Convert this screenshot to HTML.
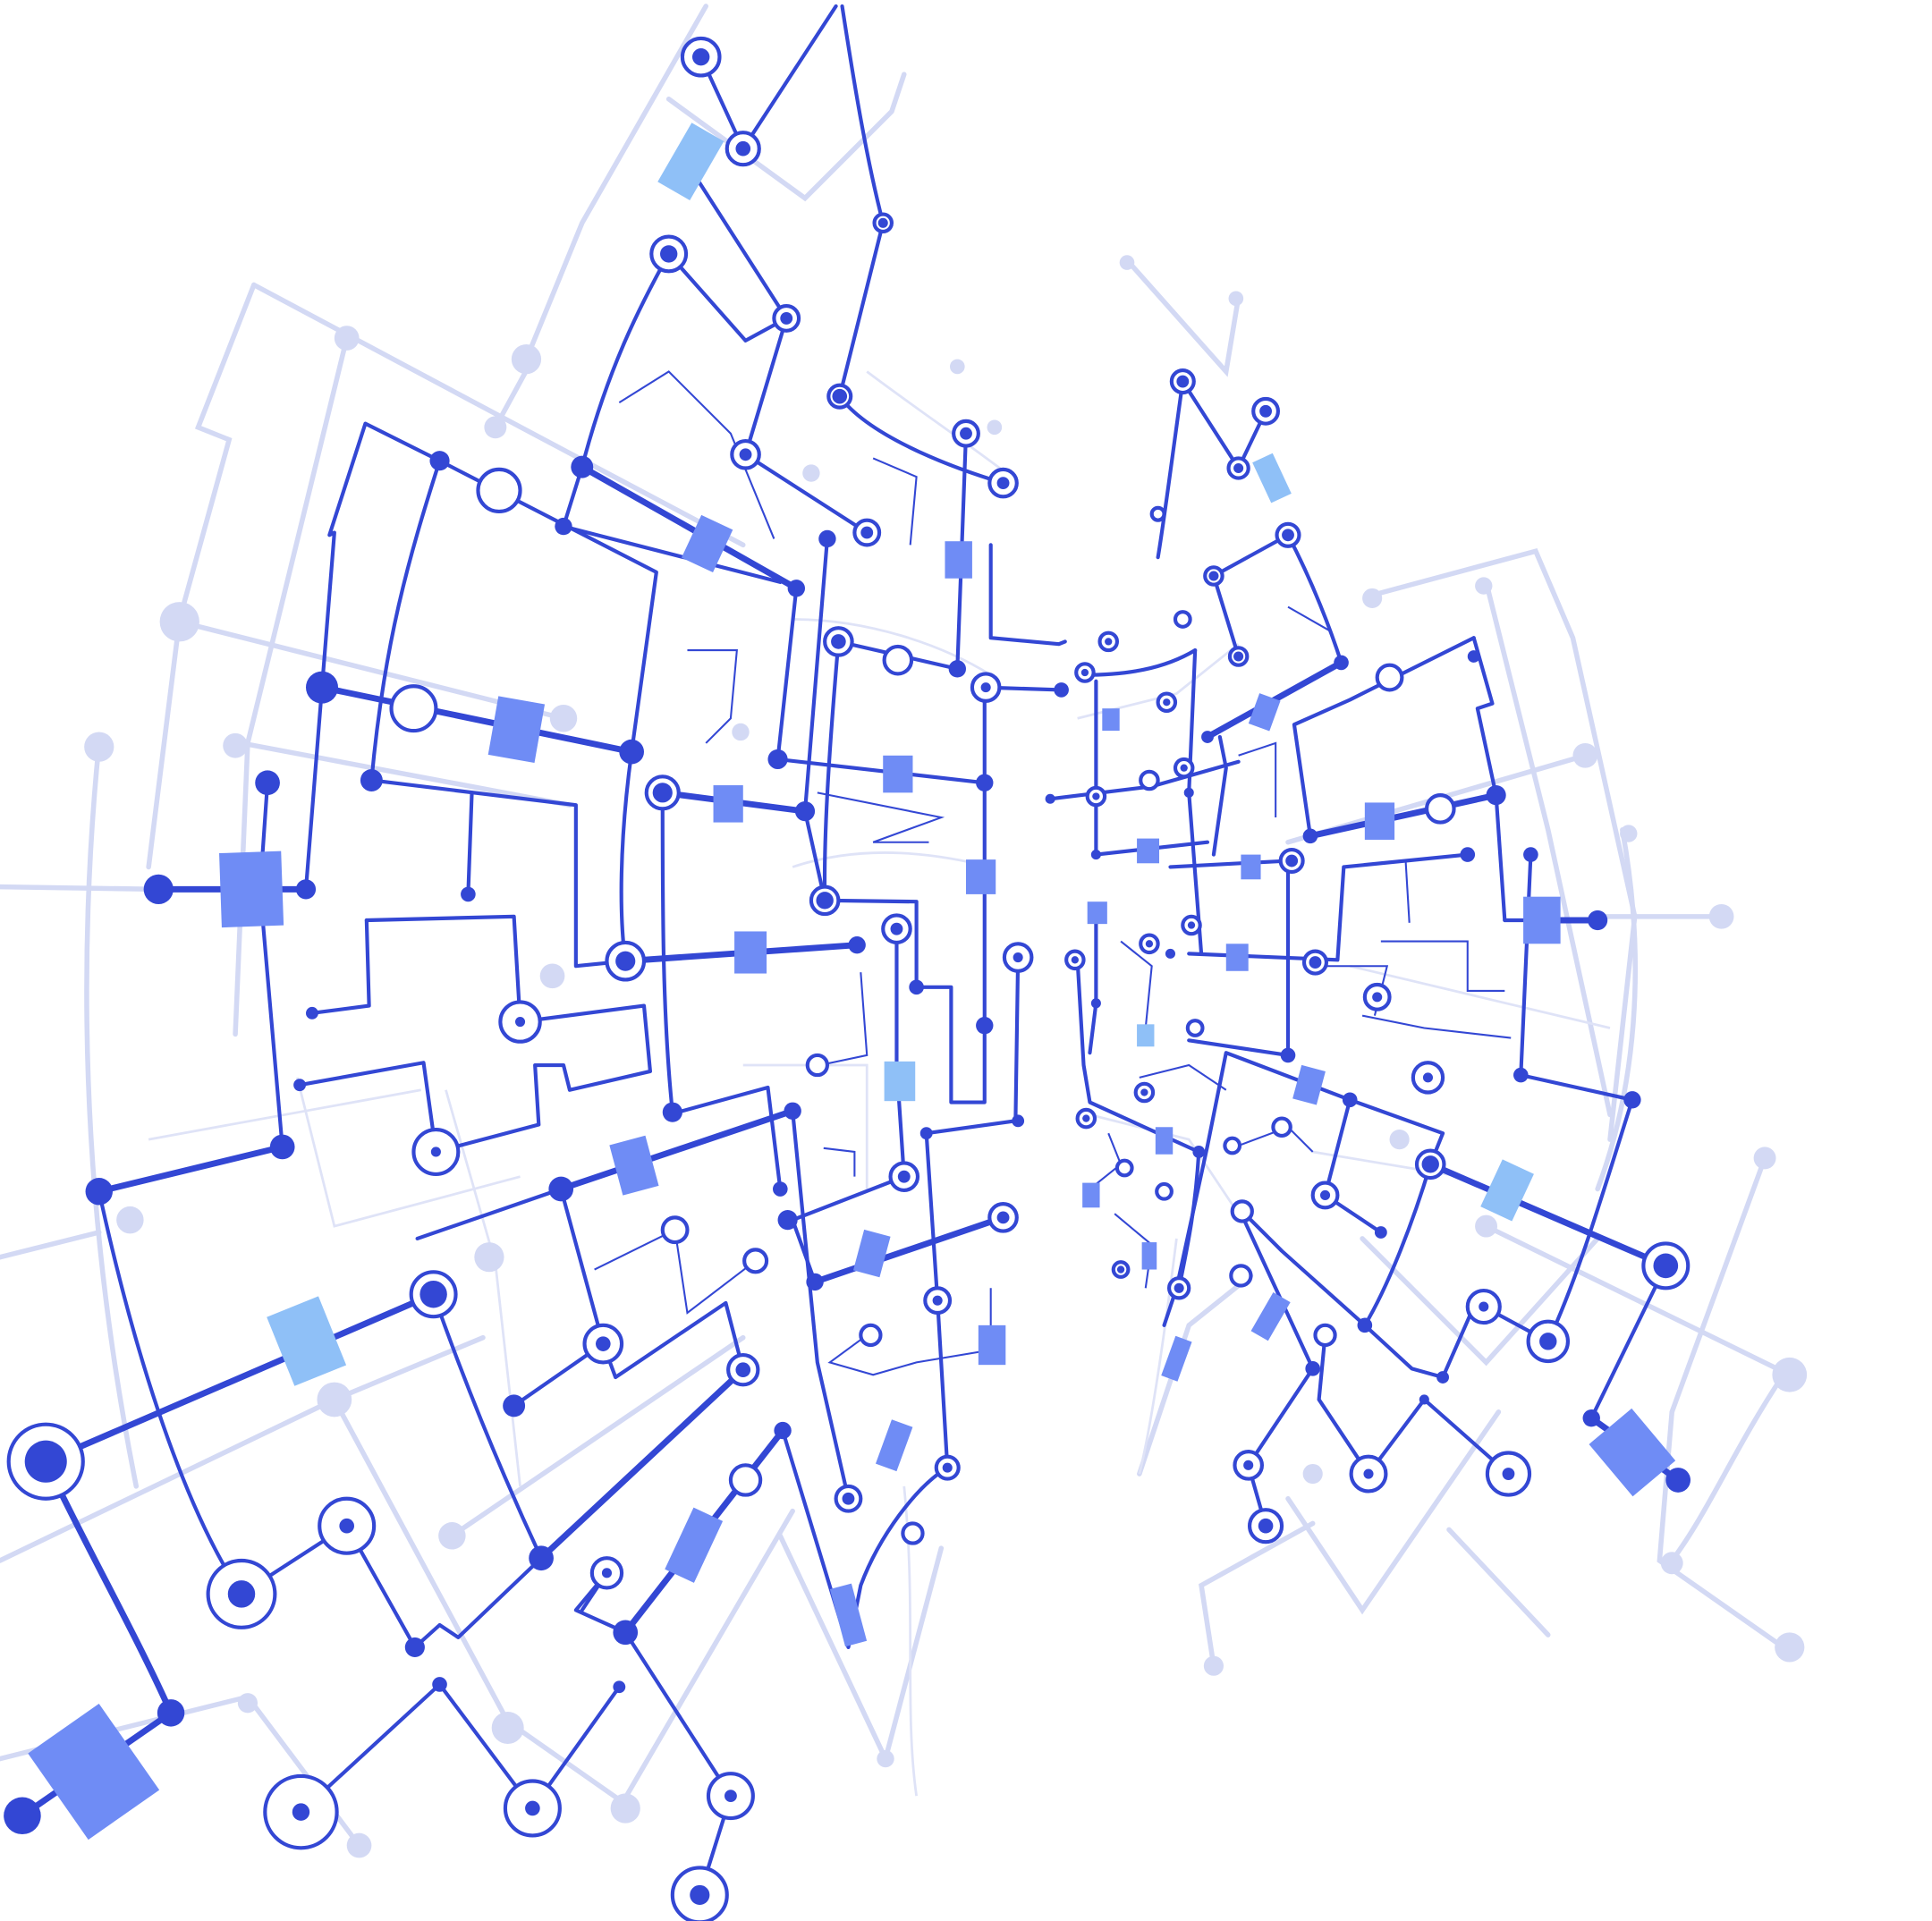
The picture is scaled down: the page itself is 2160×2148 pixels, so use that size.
<!DOCTYPE html>
<html><head><meta charset="utf-8"><style>
html,body{margin:0;padding:0;background:#fff;width:2160px;height:2148px;overflow:hidden}
svg{display:block}
.d{stroke:#3347d4;fill:none;stroke-width:3;stroke-linecap:round;stroke-linejoin:round}
.t{stroke:#3347d4;fill:none;stroke-width:5;stroke-linecap:round;stroke-linejoin:round}
.n{stroke:#3347d4;fill:none;stroke-width:1.5}
.f{stroke:#d3d9f4;fill:none;stroke-width:4;stroke-linecap:round}
.ff{stroke:#dfe3f7;fill:none;stroke-width:2}
.dot{fill:#3347d4}
.fd{fill:#d3d9f4}
.sq{fill:#6f8cf5}
.lq{fill:#8fc0f7}
.ring{stroke:#3347d4;fill:#fff;stroke-width:3}
</style></head><body>
<svg width="2160" height="2148" viewBox="0 0 1560 1551" preserveAspectRatio="none">
<g>
<path class="f" d="M0 716 L128 718"/>
<path class="f" d="M0 1015 L80 995"/>
<path class="f" d="M145 502 L455 580"/>
<path class="f" d="M80 600 C60 800 70 1000 110 1200"/>
<path class="f" d="M205 230 L160 345 L185 355 L145 500 L120 700"/>
<path class="f" d="M205 230 L430 350 L600 440"/>
<path class="f" d="M280 273 L200 600 L190 835"/>
<path class="f" d="M195 600 L460 650"/>
<path class="f" d="M0 1260 L270 1130 L390 1080"/>
<path class="f" d="M270 1130 L410 1390 L510 1460"/>
<path class="f" d="M0 1420 L200 1370 L290 1490"/>
<path class="f" d="M365 1240 L600 1080"/>
<path class="f" d="M425 290 L470 180 L570 5"/>
<path class="f" d="M400 345 L430 290"/>
<path class="f" d="M500 1460 L640 1220"/>
<path class="f" d="M630 1240 L715 1420 L760 1250"/>
<path class="f" d="M540 80 L650 160 L720 90 L730 60"/>
<path class="f" d="M910 210 L990 300 L1000 240"/>
<path class="f" d="M1110 480 L1240 445 L1270 515 L1320 740 L1300 920"/>
<path class="f" d="M1280 610 L1040 680"/>
<path class="f" d="M1290 740 L1390 740"/>
<path class="f" d="M1200 470 L1250 670 L1300 900"/>
<path class="f" d="M1310 670 C1330 780 1320 880 1290 960"/>
<path class="f" d="M1200 990 L1445 1110"/>
<path class="f" d="M1425 935 L1350 1140 L1340 1260 L1440 1330"/>
<path class="f" d="M1440 1110 C1400 1170 1380 1220 1350 1260"/>
<path class="f" d="M1210 1140 L1100 1300 L1040 1210"/>
<path class="f" d="M1170 1235 L1250 1320"/>
<path class="f" d="M1060 1230 L970 1280 L980 1345"/>
<path class="f" d="M920 1190 L960 1070 L1010 1030"/>
<path class="f" d="M1100 1000 L1200 1100 L1290 1000"/>
<path class="ff" d="M640 500 C700 500 760 520 800 545"/>
<path class="ff" d="M700 300 C740 330 770 350 810 380"/>
<path class="ff" d="M600 860 L700 860 L700 960"/>
<path class="ff" d="M640 700 C700 680 760 690 800 700"/>
<path class="ff" d="M870 580 L950 560 L1000 520"/>
<path class="ff" d="M880 900 L960 920 L1000 980"/>
<path class="ff" d="M730 1200 C740 1300 730 1380 740 1450"/>
<path class="ff" d="M950 1000 C940 1080 930 1150 920 1190"/>
<path class="ff" d="M360 880 L400 1020 L420 1200"/>
<path class="ff" d="M240 870 L270 990 L420 950"/>
<path class="ff" d="M120 920 L340 880"/>
<path class="ff" d="M1090 780 L1300 830"/>
<path class="ff" d="M1060 930 L1180 950"/>
</g>
<g>
<circle class="fd" cx="145" cy="502" r="16"/><circle class="fd" cx="80" cy="603" r="12"/>
<circle class="fd" cx="280" cy="273" r="10"/><circle class="fd" cx="425" cy="290" r="12"/>
<circle class="fd" cx="400" cy="345" r="9"/><circle class="fd" cx="190" cy="602" r="10"/>
<circle class="fd" cx="455" cy="580" r="11"/><circle class="fd" cx="270" cy="1130" r="14"/>
<circle class="fd" cx="105" cy="985" r="11"/><circle class="fd" cx="395" cy="1015" r="12"/>
<circle class="fd" cx="410" cy="1395" r="13"/><circle class="fd" cx="365" cy="1240" r="11"/>
<circle class="fd" cx="505" cy="1460" r="12"/><circle class="fd" cx="290" cy="1490" r="10"/>
<circle class="fd" cx="200" cy="1375" r="8"/><circle class="fd" cx="1390" cy="740" r="10"/>
<circle class="fd" cx="1280" cy="610" r="10"/><circle class="fd" cx="1445" cy="1110" r="14"/>
<circle class="fd" cx="1425" cy="935" r="9"/><circle class="fd" cx="1445" cy="1330" r="12"/>
<circle class="fd" cx="1350" cy="1262" r="9"/><circle class="fd" cx="1108" cy="483" r="8"/>
<circle class="fd" cx="1198" cy="473" r="7"/><circle class="fd" cx="1315" cy="673" r="7"/>
<circle class="fd" cx="1200" cy="990" r="9"/><circle class="fd" cx="1130" cy="920" r="8"/>
<circle class="fd" cx="980" cy="1345" r="8"/><circle class="fd" cx="1060" cy="1190" r="8"/>
<circle class="fd" cx="910" cy="212" r="6"/><circle class="fd" cx="998" cy="241" r="6"/>
<circle class="fd" cx="773" cy="296" r="6"/><circle class="fd" cx="803" cy="345" r="6"/>
<circle class="fd" cx="655" cy="382" r="7"/><circle class="fd" cx="598" cy="591" r="7"/>
<circle class="fd" cx="446" cy="788" r="10"/><circle class="fd" cx="715" cy="1420" r="7"/>
</g>
<g>
<path class="t" d="M128 718 L247 718"/>
<path class="d" d="M216 632 L210 718 L228 926"/>
<path class="t" d="M228 926 L80 962"/>
<path class="d" d="M80 962 C110 1100 150 1220 195 1287"/>
<path class="d" d="M195 1287 L280 1232 L335 1330 L355 1312 L370 1322 L437 1258"/>
<path class="t" d="M37 1180 L350 1045"/>
<path class="t" d="M37 1180 C70 1250 110 1320 138 1383"/>
<path class="t" d="M18 1466 L138 1383"/>
<path class="d" d="M350 1045 C380 1130 410 1200 437 1258"/>
<path class="t" d="M437 1258 L600 1106"/>
<path class="d" d="M337 1000 L453 960 L487 1085 L415 1135"/>
<path class="d" d="M487 1085 L497 1112 L586 1052 L600 1106"/>
<path class="t" d="M453 960 L640 897"/>
<path class="d" d="M247 718 L260 555 L270 430 L266 432 L295 342 L355 372 L530 462 L510 607"/>
<path class="t" d="M260 555 L510 607"/>
<path class="d" d="M300 630 C310 520 330 450 355 372"/>
<path class="d" d="M300 630 L465 650 L465 780 L505 776"/>
<path class="t" d="M505 776 L692 763"/>
<path class="d" d="M510 607 C500 680 500 740 505 776"/>
<path class="d" d="M381 640 L378 722"/>
<path class="d" d="M296 743 L415 740 L420 825 L520 812 L525 865 L460 880 L455 860 L432 860 L435 908 L352 930"/>
<path class="d" d="M296 743 L298 812 L252 818"/>
<path class="d" d="M242 876 L342 858 L352 930"/>
<path class="d" d="M540 900 L620 878 L630 960"/>
<path class="d" d="M535 640 C535 740 535 820 543 898"/>
<path class="t" d="M535 640 L650 655"/>
<path class="d" d="M455 425 L470 377 C490 300 515 250 540 205"/>
<path class="t" d="M470 377 L643 475"/>
<path class="d" d="M455 425 L630 470"/>
<path class="d" d="M643 475 L628 613 L795 632"/>
<path class="d" d="M540 205 L602 275 L635 257 L602 367 L700 430"/>
<path class="d" d="M566 46 L600 120 L675 5"/>
<path class="d" d="M560 140 L635 257"/>
<path class="d" d="M680 5 C690 70 700 130 713 180 L678 320 C700 350 760 375 810 390"/>
<path class="d" d="M668 435 L650 655 L666 727 L740 728 L740 797 L768 797 L768 890 L795 890 L795 555 L857 557"/>
<path class="d" d="M677 518 L773 540 L780 350"/>
<path class="d" d="M677 518 C670 600 665 670 666 727"/>
<path class="d" d="M724 750 L724 860 L730 950 L640 985 L658 1035"/>
<path class="d" d="M748 915 L820 905 L822 773"/>
<path class="d" d="M748 915 L757 1050 L765 1185"/>
<path class="t" d="M658 1035 L810 983"/>
<path class="d" d="M640 897 L660 1100 L685 1210"/>
<path class="d" d="M632 1155 L685 1330 L695 1280 C710 1240 740 1200 765 1185"/>
<path class="t" d="M505 1318 L632 1155"/>
<path class="d" d="M505 1318 L590 1450 L565 1530"/>
<path class="d" d="M243 1463 L355 1360 L430 1460 L500 1362"/>
<path class="d" d="M490 1270 L465 1300 L505 1318"/>
<path class="d" d="M490 1270 L470 1300"/>
<path class="d" d="M860 518 L855 520 L800 515 L800 440"/>
<path class="n" d="M500 325 L540 300 L590 350 L625 435"/>
<path class="n" d="M555 525 L595 525 L590 580 L570 600"/>
<path class="n" d="M660 640 L760 660 L705 680 L750 680"/>
<path class="n" d="M662 860 L700 852 L695 785"/>
<path class="n" d="M665 927 L690 930 L690 950"/>
<path class="n" d="M480 1025 L545 993 L555 1060 L610 1018"/>
<path class="n" d="M700 1078 L670 1100 L705 1110 L740 1100 L800 1090 L800 1040"/>
<path class="n" d="M705 370 L740 385 L735 440"/>
<!-- right side -->
<path class="d" d="M955 308 L1000 378 L1022 332"/>
<path class="d" d="M955 308 C945 380 940 420 935 450"/>
<path class="d" d="M1040 432 L980 465 L1000 530"/>
<path class="d" d="M1040 432 C1060 470 1075 510 1083 535"/>
<path class="t" d="M1083 535 L975 595"/>
<path class="d" d="M1190 515 L1090 565 L1045 585 L1058 675"/>
<path class="d" d="M1190 515 L1205 568 L1193 572 L1208 642 L1215 743"/>
<path class="t" d="M1208 642 L1058 675"/>
<path class="d" d="M1185 690 L1085 700 L1080 775 L960 770"/>
<path class="d" d="M1245 743 L1215 743"/>
<path class="t" d="M1245 743 L1290 743"/>
<path class="d" d="M1236 690 L1228 868 L1318 888"/>
<path class="d" d="M1318 888 C1295 960 1275 1030 1250 1083 L1198 1055"/>
<path class="t" d="M1345 1022 L1155 940"/>
<path class="d" d="M1345 1022 L1285 1145"/>
<path class="t" d="M1285 1145 L1355 1195"/>
<path class="d" d="M1155 940 C1140 990 1120 1040 1102 1070 L1035 1010 L1000 975"/>
<path class="d" d="M1102 1070 L1140 1105 L1165 1112 L1190 1055"/>
<path class="d" d="M1090 888 L990 850 L975 925 L950 1040 L940 1070"/>
<path class="d" d="M1090 888 L1165 915 L1155 940"/>
<path class="d" d="M1090 888 L1070 965 L1115 995"/>
<path class="d" d="M1040 852 L1040 695 L945 700"/>
<path class="d" d="M1040 852 L960 840"/>
<path class="d" d="M1000 975 L1060 1105 L1008 1183 L1022 1232"/>
<path class="d" d="M1070 1078 L1065 1130 L1105 1190 L1150 1130 L1218 1190"/>
<path class="d" d="M968 930 L880 890 L875 860 L870 775"/>
<path class="d" d="M968 930 C965 980 958 1010 952 1040"/>
<path class="d" d="M965 525 L960 640 L970 770"/>
<path class="d" d="M965 525 C940 540 910 545 875 545"/>
<path class="d" d="M885 550 L885 690 L975 680"/>
<path class="d" d="M885 740 L885 810 L880 850"/>
<path class="d" d="M985 595 L990 620 L980 690"/>
<path class="d" d="M848 645 L930 635 L1000 615"/>
<path class="n" d="M1000 610 L1030 600 L1030 660"/>
<path class="n" d="M1060 780 L1120 780 L1110 820"/>
<path class="n" d="M1115 760 L1185 760 L1185 800 L1215 800"/>
<path class="n" d="M1135 695 L1138 745"/>
<path class="n" d="M1100 820 L1150 830 L1220 838"/>
<path class="n" d="M1040 490 L1075 510"/>
<path class="n" d="M895 915 L905 940 L880 960"/>
<path class="n" d="M900 980 L930 1005 L925 1040"/>
<path class="n" d="M905 760 L930 780 L925 830"/>
<path class="n" d="M920 870 L960 860 L990 880"/>
<path class="n" d="M1000 925 L1040 910 L1060 930"/>
</g>
<g>
<rect class="sq" x="178" y="688" width="50" height="60" transform="rotate(-2 203 718)"/>
<rect class="lq" x="225" y="1053" width="45" height="60" transform="rotate(-22 247 1083)"/>
<rect class="sq" x="398" y="565" width="38" height="48" transform="rotate(10 417 589)"/>
<rect class="sq" x="557" y="420" width="28" height="38" transform="rotate(25 571 439)"/>
<rect class="lq" x="543" y="103" width="30" height="55" transform="rotate(30 558 130)"/>
<rect class="sq" x="576" y="634" width="24" height="30"/>
<rect class="sq" x="593" y="752" width="26" height="34"/>
<rect class="sq" x="497" y="920" width="30" height="42" transform="rotate(-15 512 941)"/>
<rect class="sq" x="713" y="610" width="24" height="30"/>
<rect class="sq" x="763" y="437" width="22" height="30"/>
<rect class="sq" x="780" y="694" width="24" height="28"/>
<rect class="lq" x="714" y="857" width="25" height="32"/>
<rect class="sq" x="693" y="995" width="22" height="34" transform="rotate(15 704 1012)"/>
<rect class="sq" x="790" y="1070" width="22" height="32"/>
<rect class="sq" x="713" y="1148" width="18" height="38" transform="rotate(20 722 1167)"/>
<rect class="sq" x="547" y="1220" width="26" height="55" transform="rotate(25 560 1248)"/>
<rect class="sq" x="676" y="1280" width="18" height="48" transform="rotate(-15 685 1304)"/>
<rect class="sq" x="40" y="1385" width="70" height="85" transform="rotate(-35 80 1428)"/>
<rect class="sq" x="1230" y="724" width="30" height="38"/>
<rect class="sq" x="1102" y="648" width="24" height="30"/>
<rect class="lq" x="1203" y="940" width="28" height="42" transform="rotate(25 1217 961)"/>
<rect class="sq" x="1295" y="1145" width="45" height="55" transform="rotate(-40 1318 1172)"/>
<rect class="sq" x="1012" y="562" width="18" height="26" transform="rotate(20 1021 575)"/>
<rect class="lq" x="1018" y="368" width="18" height="36" transform="rotate(-25 1027 386)"/>
<rect class="sq" x="1047" y="862" width="20" height="28" transform="rotate(15 1057 876)"/>
<rect class="sq" x="990" y="762" width="18" height="22"/>
<rect class="sq" x="1002" y="690" width="16" height="20"/>
<rect class="sq" x="918" y="677" width="18" height="20"/>
<rect class="sq" x="878" y="728" width="16" height="18"/>
<rect class="sq" x="890" y="572" width="14" height="18"/>
<rect class="lq" x="918" y="827" width="14" height="18"/>
<rect class="sq" x="933" y="910" width="14" height="22"/>
<rect class="sq" x="874" y="955" width="14" height="20"/>
<rect class="sq" x="1018" y="1045" width="16" height="36" transform="rotate(30 1026 1063)"/>
<rect class="sq" x="943" y="1080" width="14" height="34" transform="rotate(20 950 1097)"/>
<rect class="sq" x="922" y="1003" width="12" height="22"/>
</g>
<g>
<circle class="dot" cx="128" cy="718" r="12"/><circle class="dot" cx="216" cy="632" r="10"/>
<circle class="dot" cx="247" cy="718" r="8"/><circle class="dot" cx="228" cy="926" r="10"/>
<circle class="dot" cx="80" cy="962" r="11"/><circle class="dot" cx="260" cy="555" r="13"/>
<circle class="dot" cx="355" cy="372" r="8"/><circle class="dot" cx="300" cy="630" r="9"/>
<circle class="dot" cx="510" cy="607" r="10"/><circle class="dot" cx="470" cy="377" r="9"/>
<circle class="dot" cx="455" cy="425" r="7"/><circle class="dot" cx="643" cy="475" r="7"/>
<circle class="dot" cx="628" cy="613" r="8"/><circle class="dot" cx="650" cy="655" r="8"/>
<circle class="dot" cx="795" cy="632" r="7"/><circle class="dot" cx="692" cy="763" r="7"/>
<circle class="dot" cx="668" cy="435" r="7"/><circle class="dot" cx="773" cy="540" r="7"/>
<circle class="dot" cx="857" cy="557" r="6"/><circle class="dot" cx="795" cy="828" r="7"/>
<circle class="dot" cx="740" cy="797" r="6"/><circle class="dot" cx="543" cy="898" r="8"/>
<circle class="dot" cx="640" cy="897" r="7"/><circle class="dot" cx="630" cy="960" r="6"/>
<circle class="dot" cx="636" cy="985" r="8"/><circle class="dot" cx="658" cy="1035" r="7"/>
<circle class="dot" cx="453" cy="960" r="10"/><circle class="dot" cx="415" cy="1135" r="9"/>
<circle class="dot" cx="437" cy="1258" r="10"/><circle class="dot" cx="335" cy="1330" r="8"/>
<circle class="dot" cx="138" cy="1383" r="11"/><circle class="dot" cx="18" cy="1466" r="15"/>
<circle class="dot" cx="632" cy="1155" r="7"/><circle class="dot" cx="505" cy="1318" r="10"/>
<circle class="dot" cx="355" cy="1360" r="6"/><circle class="dot" cx="500" cy="1362" r="5"/>
<circle class="dot" cx="748" cy="915" r="5"/><circle class="dot" cx="822" cy="905" r="5"/>
<circle class="dot" cx="378" cy="722" r="6"/><circle class="dot" cx="252" cy="818" r="5"/>
<circle class="dot" cx="242" cy="876" r="5"/>
<circle class="dot" cx="1083" cy="535" r="6"/><circle class="dot" cx="975" cy="595" r="5"/>
<circle class="dot" cx="1208" cy="642" r="8"/><circle class="dot" cx="1058" cy="675" r="6"/>
<circle class="dot" cx="1185" cy="690" r="6"/><circle class="dot" cx="1236" cy="690" r="6"/>
<circle class="dot" cx="1290" cy="743" r="8"/><circle class="dot" cx="1228" cy="868" r="6"/>
<circle class="dot" cx="1318" cy="888" r="7"/><circle class="dot" cx="1090" cy="888" r="6"/>
<circle class="dot" cx="1040" cy="852" r="6"/><circle class="dot" cx="1115" cy="995" r="5"/>
<circle class="dot" cx="1102" cy="1070" r="6"/><circle class="dot" cx="1165" cy="1112" r="5"/>
<circle class="dot" cx="1285" cy="1145" r="7"/><circle class="dot" cx="1355" cy="1195" r="10"/>
<circle class="dot" cx="1060" cy="1105" r="6"/><circle class="dot" cx="1000" cy="975" r="5"/>
<circle class="dot" cx="1150" cy="1130" r="4"/><circle class="dot" cx="1190" cy="530" r="5"/>
<circle class="dot" cx="968" cy="930" r="5"/><circle class="dot" cx="885" cy="690" r="4"/>
<circle class="dot" cx="885" cy="810" r="4"/><circle class="dot" cx="848" cy="645" r="4"/>
<circle class="dot" cx="960" cy="640" r="4"/><circle class="dot" cx="945" cy="770" r="4"/>
</g>
<g>
<circle class="ring" cx="37" cy="1180" r="30"/><circle class="dot" cx="37" cy="1180" r="17"/>
<circle class="ring" cx="195" cy="1287" r="27"/><circle class="dot" cx="195" cy="1287" r="11"/>
<circle class="ring" cx="280" cy="1232" r="22"/><circle class="dot" cx="280" cy="1232" r="6"/>
<circle class="ring" cx="243" cy="1463" r="29"/><circle class="dot" cx="243" cy="1463" r="7"/>
<circle class="ring" cx="430" cy="1460" r="22"/><circle class="dot" cx="430" cy="1460" r="6"/>
<circle class="ring" cx="590" cy="1450" r="18"/><circle class="dot" cx="590" cy="1450" r="5"/>
<circle class="ring" cx="565" cy="1530" r="22"/><circle class="dot" cx="565" cy="1530" r="8"/>
<circle class="ring" cx="350" cy="1045" r="18"/><circle class="dot" cx="350" cy="1045" r="11"/>
<circle class="ring" cx="487" cy="1085" r="15"/><circle class="dot" cx="487" cy="1085" r="6"/>
<circle class="ring" cx="600" cy="1106" r="12"/><circle class="dot" cx="600" cy="1106" r="6"/>
<circle class="ring" cx="352" cy="930" r="18"/><circle class="dot" cx="352" cy="930" r="4"/>
<circle class="ring" cx="420" cy="825" r="16"/><circle class="dot" cx="420" cy="825" r="4"/>
<circle class="ring" cx="505" cy="776" r="15"/><circle class="dot" cx="505" cy="776" r="8"/>
<circle class="ring" cx="535" cy="640" r="13"/><circle class="dot" cx="535" cy="640" r="8"/>
<circle class="ring" cx="334" cy="572" r="18"/>
<circle class="ring" cx="403" cy="396" r="17"/>
<circle class="ring" cx="540" cy="205" r="14"/><circle class="dot" cx="540" cy="205" r="7"/>
<circle class="ring" cx="566" cy="46" r="15"/><circle class="dot" cx="566" cy="46" r="7"/>
<circle class="ring" cx="600" cy="120" r="13"/><circle class="dot" cx="600" cy="120" r="6"/>
<circle class="ring" cx="635" cy="257" r="10"/><circle class="dot" cx="635" cy="257" r="5"/>
<circle class="ring" cx="602" cy="367" r="11"/><circle class="dot" cx="602" cy="367" r="5"/>
<circle class="ring" cx="678" cy="320" r="9"/><circle class="dot" cx="678" cy="320" r="6"/>
<circle class="ring" cx="713" cy="180" r="7"/><circle class="dot" cx="713" cy="180" r="4"/>
<circle class="ring" cx="700" cy="430" r="10"/><circle class="dot" cx="700" cy="430" r="5"/>
<circle class="ring" cx="780" cy="350" r="10"/><circle class="dot" cx="780" cy="350" r="5"/>
<circle class="ring" cx="810" cy="390" r="11"/><circle class="dot" cx="810" cy="390" r="5"/>
<circle class="ring" cx="677" cy="518" r="11"/><circle class="dot" cx="677" cy="518" r="6"/>
<circle class="ring" cx="725" cy="533" r="11"/>
<circle class="ring" cx="796" cy="555" r="11"/><circle class="dot" cx="796" cy="555" r="4"/>
<circle class="ring" cx="666" cy="727" r="11"/><circle class="dot" cx="666" cy="727" r="7"/>
<circle class="ring" cx="724" cy="750" r="11"/><circle class="dot" cx="724" cy="750" r="5"/>
<circle class="ring" cx="822" cy="773" r="11"/><circle class="dot" cx="822" cy="773" r="4"/>
<circle class="ring" cx="730" cy="950" r="11"/><circle class="dot" cx="730" cy="950" r="5"/>
<circle class="ring" cx="810" cy="983" r="11"/><circle class="dot" cx="810" cy="983" r="5"/>
<circle class="ring" cx="660" cy="860" r="8"/><circle class="ring" cx="545" cy="993" r="10"/>
<circle class="ring" cx="610" cy="1018" r="9"/><circle class="ring" cx="757" cy="1050" r="10"/><circle class="dot" cx="757" cy="1050" r="4"/>
<circle class="ring" cx="703" cy="1078" r="8"/>
<circle class="ring" cx="685" cy="1210" r="10"/><circle class="dot" cx="685" cy="1210" r="5"/>
<circle class="ring" cx="765" cy="1185" r="9"/><circle class="dot" cx="765" cy="1185" r="4"/>
<circle class="ring" cx="737" cy="1238" r="8"/>
<circle class="ring" cx="602" cy="1195" r="12"/>
<circle class="ring" cx="490" cy="1270" r="12"/><circle class="dot" cx="490" cy="1270" r="4"/>
<circle class="ring" cx="1345" cy="1022" r="18"/><circle class="dot" cx="1345" cy="1022" r="10"/>
<circle class="ring" cx="1250" cy="1083" r="16"/><circle class="dot" cx="1250" cy="1083" r="7"/>
<circle class="ring" cx="1198" cy="1055" r="13"/><circle class="dot" cx="1198" cy="1055" r="4"/>
<circle class="ring" cx="1218" cy="1190" r="17"/><circle class="dot" cx="1218" cy="1190" r="5"/>
<circle class="ring" cx="1105" cy="1190" r="14"/><circle class="dot" cx="1105" cy="1190" r="4"/>
<circle class="ring" cx="1022" cy="1232" r="13"/><circle class="dot" cx="1022" cy="1232" r="6"/>
<circle class="ring" cx="1008" cy="1183" r="11"/><circle class="dot" cx="1008" cy="1183" r="4"/>
<circle class="ring" cx="1155" cy="940" r="11"/><circle class="dot" cx="1155" cy="940" r="7"/>
<circle class="ring" cx="1153" cy="870" r="12"/><circle class="dot" cx="1153" cy="870" r="4"/>
<circle class="ring" cx="1112" cy="805" r="10"/><circle class="dot" cx="1112" cy="805" r="4"/>
<circle class="ring" cx="1163" cy="653" r="11"/>
<circle class="ring" cx="1122" cy="547" r="10"/>
<circle class="ring" cx="1062" cy="777" r="9"/><circle class="dot" cx="1062" cy="777" r="5"/>
<circle class="ring" cx="1043" cy="695" r="9"/><circle class="dot" cx="1043" cy="695" r="5"/>
<circle class="ring" cx="1070" cy="965" r="10"/><circle class="dot" cx="1070" cy="965" r="4"/>
<circle class="ring" cx="1070" cy="1078" r="8"/>
<circle class="ring" cx="1040" cy="432" r="9"/><circle class="dot" cx="1040" cy="432" r="5"/>
<circle class="ring" cx="1022" cy="332" r="10"/><circle class="dot" cx="1022" cy="332" r="5"/>
<circle class="ring" cx="955" cy="308" r="9"/><circle class="dot" cx="955" cy="308" r="5"/>
<circle class="ring" cx="1000" cy="378" r="8"/><circle class="dot" cx="1000" cy="378" r="4"/>
<circle class="ring" cx="980" cy="465" r="7"/><circle class="dot" cx="980" cy="465" r="4"/>
<circle class="ring" cx="1000" cy="530" r="7"/><circle class="dot" cx="1000" cy="530" r="4"/>
<circle class="ring" cx="955" cy="500" r="6"/><circle class="ring" cx="935" cy="415" r="5"/>
<circle class="ring" cx="895" cy="518" r="7"/><circle class="dot" cx="895" cy="518" r="3"/>
<circle class="ring" cx="876" cy="543" r="7"/><circle class="dot" cx="876" cy="543" r="3"/>
<circle class="ring" cx="942" cy="567" r="7"/><circle class="dot" cx="942" cy="567" r="3"/>
<circle class="ring" cx="928" cy="630" r="7"/>
<circle class="ring" cx="885" cy="643" r="7"/><circle class="dot" cx="885" cy="643" r="3"/>
<circle class="ring" cx="956" cy="620" r="7"/><circle class="dot" cx="956" cy="620" r="3"/>
<circle class="ring" cx="962" cy="747" r="7"/><circle class="dot" cx="962" cy="747" r="3"/>
<circle class="ring" cx="928" cy="762" r="7"/><circle class="dot" cx="928" cy="762" r="3"/>
<circle class="ring" cx="868" cy="775" r="7"/><circle class="dot" cx="868" cy="775" r="3"/>
<circle class="ring" cx="924" cy="882" r="7"/><circle class="dot" cx="924" cy="882" r="3"/>
<circle class="ring" cx="965" cy="830" r="6"/><circle class="ring" cx="1035" cy="910" r="7"/>
<circle class="ring" cx="877" cy="903" r="7"/><circle class="dot" cx="877" cy="903" r="3"/>
<circle class="ring" cx="908" cy="943" r="6"/><circle class="ring" cx="940" cy="962" r="6"/>
<circle class="ring" cx="995" cy="925" r="6"/><circle class="ring" cx="1003" cy="978" r="8"/>
<circle class="ring" cx="1002" cy="1030" r="8"/><circle class="ring" cx="952" cy="1040" r="8"/><circle class="dot" cx="952" cy="1040" r="4"/>
<circle class="ring" cx="905" cy="1025" r="6"/><circle class="dot" cx="905" cy="1025" r="3"/>
</g>
</svg>
</body></html>
